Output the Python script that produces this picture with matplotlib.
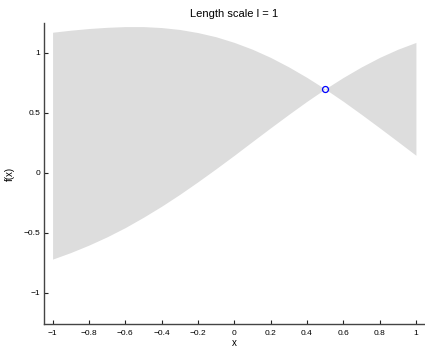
#!/usr/bin/env python3

import numpy as np
import matplotlib
matplotlib.use("Agg")
import matplotlib.pyplot as plt

# band (upper / lower edge of the gray region)
xs = [-1.0, -0.9, -0.8, -0.7, -0.6, -0.5, -0.4, -0.3, -0.2, -0.1, 0.0,
      0.1, 0.2, 0.3, 0.4, 0.5, 0.6, 0.7, 0.8, 0.9, 1.0]
upper = [1.173, 1.190, 1.204, 1.214, 1.220, 1.220, 1.212, 1.196, 1.170, 1.135, 1.088,
         1.031, 0.963, 0.884, 0.796, 0.700, 0.796, 0.884, 0.963, 1.031, 1.088]
lower = [-0.719, -0.664, -0.602, -0.533, -0.456, -0.370, -0.278, -0.179, -0.074, 0.035, 0.147,
         0.262, 0.376, 0.488, 0.597, 0.700, 0.597, 0.488, 0.376, 0.262, 0.147]

obs_x = [0.5]
obs_y = [0.7]

xticks = [-1, -0.8, -0.6, -0.4, -0.2, 0, 0.2, 0.4, 0.6, 0.8, 1]
yticks = [-1, -0.5, 0, 0.5, 1]

plt.rcParams['font.family'] = ['Liberation Sans', 'DejaVu Sans']

fig = plt.figure(figsize=(4.25, 3.47), dpi=100)
ax = fig.add_axes([43.5 / 425, 23 / 347, 381.5 / 425, 301 / 347])

ax.fill_between(xs, lower, upper, color='#dddddd', linewidth=0)
ax.plot(obs_x, obs_y, 'o', markerfacecolor='none', markeredgecolor='#0000ff',
        markersize=4.3, markeredgewidth=0.9)

ax.set_xlim(-1.05, 1.05)
ax.set_ylim(-1.26, 1.25)
ax.set_xticks(xticks)
ax.set_yticks(yticks)
ax.set_xticklabels(['\u22121', '\u22120.8', '\u22120.6', '\u22120.4', '\u22120.2',
                    '0', '0.2', '0.4', '0.6', '0.8', '1'])
ax.set_yticklabels(['\u22121', '\u22120.5', '0', '0.5', '1'])

for side in ['top', 'right']:
    ax.spines[side].set_visible(False)
for side in ['left', 'bottom']:
    ax.spines[side].set_color('#444444')
    ax.spines[side].set_linewidth(1.0)
ax.tick_params(direction='in', length=3, width=0.8, labelsize=6, color='#222222')
ax.tick_params(axis='x', pad=4)
ax.tick_params(axis='y', pad=2.5)

ax.set_title('Length scale l = 1', fontsize=8, pad=4)
ax.set_xlabel('x', fontsize=7, labelpad=1)
ax.set_ylabel('f(x)', fontsize=7, labelpad=6)

plt.savefig('out.png', dpi=100)
